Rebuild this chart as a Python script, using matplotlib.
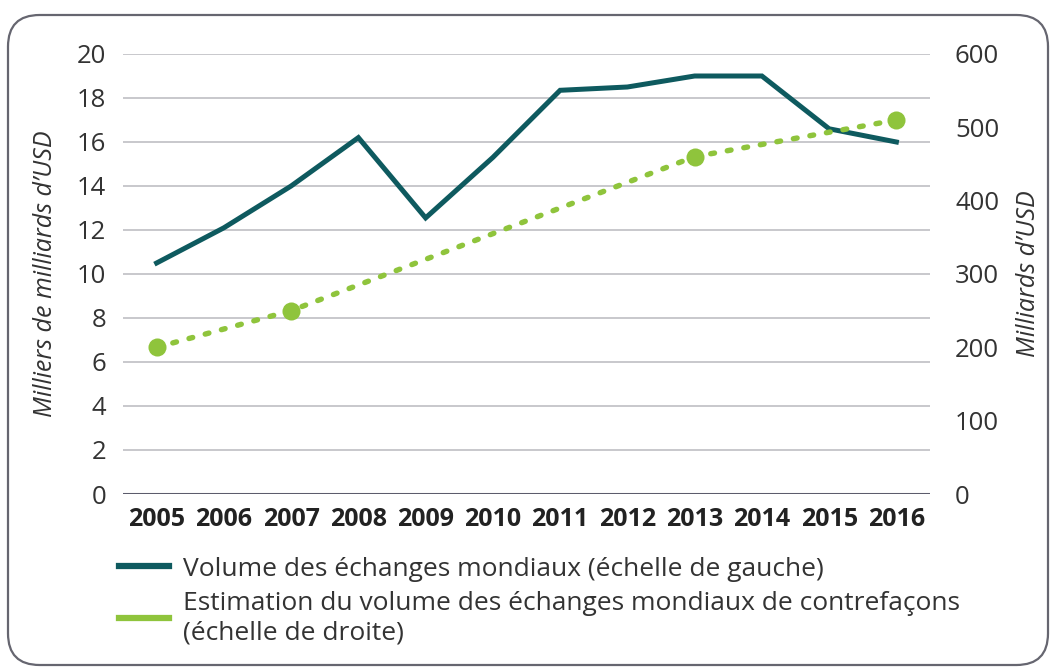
import matplotlib
matplotlib.use("Agg")
import matplotlib.pyplot as plt
from matplotlib.lines import Line2D
from matplotlib.patches import FancyBboxPatch

plt.rcParams['font.family'] = ['Open Sans', 'DejaVu Sans']

years = [2005, 2006, 2007, 2008, 2009, 2010, 2011, 2012, 2013, 2014, 2015, 2016]
trade = [10.5, 12.1, 14.0, 16.2, 12.55, 15.3, 18.35, 18.5, 19.0, 19.0, 16.6, 16.0]
fake_years = [2005, 2007, 2013, 2016]
fake = [200, 250, 460, 510]
left_ticks = list(range(0, 21, 2))
right_ticks = list(range(0, 601, 100))
label_left = "Milliers de milliards d\u2019USD"
label_right = "Milliards d\u2019USD"
legend_labels = ["Volume des échanges mondiaux (échelle de gauche)",
                 "Estimation du volume des échanges mondiaux de contrefaçons\n(échelle de droite)"]

TEAL = "#0e5a5f"
GREEN = "#8fc43c"
TXT = "#333333"

fig = plt.figure(figsize=(10.54, 6.69), dpi=100)
fig.patch.set_facecolor("white")

border = FancyBboxPatch((8/1054, 4/669), 1040/1054, 650/669,
                        boxstyle="round,pad=0,rounding_size=0.03",
                        transform=fig.transFigure, facecolor="none",
                        edgecolor="#666670", linewidth=1.6, mutation_aspect=1054/669)
fig.add_artist(border)

ax = fig.add_axes([123/1054, 1-494/669, 807/1054, 440/669])
ax2 = ax.twinx()

ax.set_xlim(2004.5, 2016.5)
ax.set_ylim(0, 20)
ax2.set_ylim(0, 600)
ax.set_yticks(left_ticks)
ax2.set_yticks(right_ticks)
ax.set_xticks(years)

for y in left_ticks[1:]:
    ax.axhline(y, color="#c8c8cc", lw=1.4, zorder=0)
ax.axhline(0, color="#5c5c6c", lw=2.2, zorder=1)

ax.plot(years, trade, color=TEAL, lw=3.6, zorder=3, solid_joinstyle='miter')
ax2.plot(fake_years, fake, color=GREEN, lw=3.9, linestyle=(0, (0.7, 2.4)),
         dash_capstyle='round', marker='o', markersize=13, markeredgewidth=0,
         zorder=3)

for a in (ax, ax2):
    for s in a.spines.values():
        s.set_visible(False)
    a.tick_params(length=0)

ax.tick_params(axis='y', labelsize=18.5, labelcolor=TXT, pad=12)
ax2.tick_params(axis='y', labelsize=18.5, labelcolor=TXT, pad=18)
ax.tick_params(axis='x', labelsize=18, labelcolor="#222222", pad=9)
for t in ax.get_xticklabels():
    t.set_fontweight('bold')

ax.set_ylabel(label_left, fontsize=18, style='italic', color=TXT, labelpad=14)
ax2.set_ylabel(label_right, fontsize=18, style='italic', color=TXT, labelpad=12)

handles = [Line2D([], [], color=TEAL, lw=4.5),
           Line2D([], [], color=GREEN, lw=4.5)]
fig.legend(handles, legend_labels, loc='upper left',
           bbox_to_anchor=(108/1054, 1-546/669), frameon=False,
           fontsize=19, labelcolor=TXT, handlelength=1.9, handletextpad=0.55,
           labelspacing=0.35, borderaxespad=0)
leg = fig.legends[0]
for t in leg.get_texts():
    t.set_linespacing(1.25)

fig.savefig("out.png", dpi=100, facecolor="white")
